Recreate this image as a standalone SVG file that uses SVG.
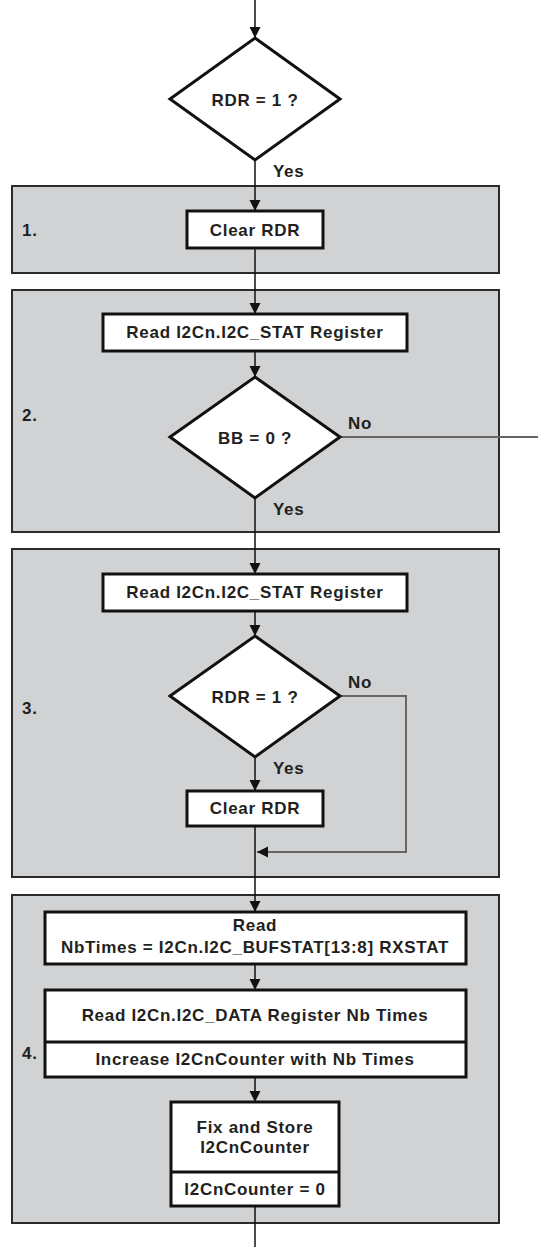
<svg xmlns="http://www.w3.org/2000/svg" width="538" height="1247" viewBox="0 0 538 1247">
<style>
  .grp { fill: #d1d2d4; stroke: #2b2b2b; stroke-width: 2; }
  .box { fill: #ffffff; stroke: #111111; stroke-width: 3; }
  .dia { fill: #ffffff; stroke: #111111; stroke-width: 3; stroke-linejoin: miter; }
  .div { stroke: #111111; stroke-width: 3; }
  .t { font-family: "Liberation Sans", Arial, sans-serif; font-weight: bold; font-size: 17px; letter-spacing: 0.7px; fill: #231f20; }
  .c { text-anchor: middle; }
  .ln { fill: none; stroke: #111111; stroke-width: 1.5; }
  .no { fill: none; stroke: #666666; stroke-width: 2; }
</style>
<defs>
  <marker id="ah" markerUnits="userSpaceOnUse" markerWidth="12" markerHeight="12" viewBox="0 0 12 12" refX="11" refY="6" orient="auto">
    <path d="M0,0.5 L11,6 L0,11.5 Z" fill="#111111"/>
  </marker>
</defs>

<g id="stage1-bg"><rect class="grp" x="12" y="186" width="487" height="87"/></g>
<g id="stage2-bg"><rect class="grp" x="12" y="290" width="487" height="242"/></g>
<g id="stage3-bg"><rect class="grp" x="12" y="549" width="487" height="328"/></g>
<g id="stage4-bg"><rect class="grp" x="12" y="895" width="487" height="328"/></g>

<g id="connectors">
  <line class="ln" x1="255" y1="0" x2="255" y2="38" marker-end="url(#ah)"/>
  <line class="ln" x1="255" y1="160" x2="255" y2="211" marker-end="url(#ah)"/>
  <line class="ln" x1="255" y1="248" x2="255" y2="314" marker-end="url(#ah)"/>
  <line class="ln" x1="255" y1="351" x2="255" y2="377" marker-end="url(#ah)"/>
  <line class="ln" x1="255" y1="498" x2="255" y2="574" marker-end="url(#ah)"/>
  <line class="ln" x1="255" y1="611" x2="255" y2="636" marker-end="url(#ah)"/>
  <line class="ln" x1="255" y1="757" x2="255" y2="791" marker-end="url(#ah)"/>
  <line class="ln" x1="255" y1="826" x2="255" y2="912" marker-end="url(#ah)"/>
  <line class="ln" x1="255" y1="964" x2="255" y2="990" marker-end="url(#ah)"/>
  <line class="ln" x1="255" y1="1077" x2="255" y2="1102" marker-end="url(#ah)"/>
  <line class="ln" x1="255" y1="1206" x2="255" y2="1247"/>
  <line class="no" x1="340" y1="437" x2="538" y2="437"/>
  <polyline class="no" points="340,696 406,696 406,852 257,852" marker-end="url(#ah)"/>
  <text class="t" x="273" y="177">Yes</text>
  <text class="t" x="273" y="515">Yes</text>
  <text class="t" x="273" y="774">Yes</text>
  <text class="t" x="348" y="429">No</text>
  <text class="t" x="348" y="688">No</text>
</g>

<g id="decision1">
  <polygon class="dia" points="255,38 340,99 255,160 170,99"/>
  <text class="t c" x="255" y="106">RDR = 1 ?</text>
</g>

<g id="stage1">
  <text class="t" x="22" y="236">1.</text>
  <g id="clear-rdr-1">
    <rect class="box" x="187" y="211" width="136" height="37"/>
    <text class="t c" x="255" y="236">Clear RDR</text>
  </g>
</g>

<g id="stage2">
  <text class="t" x="22" y="421">2.</text>
  <g id="read-stat-2">
    <rect class="box" x="103" y="314" width="304" height="37"/>
    <text class="t c" x="255" y="338">Read I2Cn.I2C_STAT Register</text>
  </g>
  <g id="decision-bb">
    <polygon class="dia" points="255,377 340,437 255,498 170,437"/>
    <text class="t c" x="255" y="444">BB = 0 ?</text>
  </g>
</g>

<g id="stage3">
  <text class="t" x="22" y="714">3.</text>
  <g id="read-stat-3">
    <rect class="box" x="103" y="574" width="304" height="37"/>
    <text class="t c" x="255" y="598">Read I2Cn.I2C_STAT Register</text>
  </g>
  <g id="decision-rdr-3">
    <polygon class="dia" points="255,636 340,696 255,757 170,696"/>
    <text class="t c" x="255" y="703">RDR = 1 ?</text>
  </g>
  <g id="clear-rdr-3">
    <rect class="box" x="187" y="791" width="136" height="35"/>
    <text class="t c" x="255" y="814">Clear RDR</text>
  </g>
</g>

<g id="stage4">
  <text class="t" x="22" y="1059">4.</text>
  <g id="read-bufstat">
    <rect class="box" x="45" y="912" width="421" height="52"/>
    <text class="t c" x="255" y="931">Read</text>
    <text class="t c" x="255" y="953">NbTimes = I2Cn.I2C_BUFSTAT[13:8] RXSTAT</text>
  </g>
  <g id="read-data">
    <rect class="box" x="45" y="990" width="421" height="87"/>
    <line class="div" x1="45" y1="1042" x2="466" y2="1042"/>
    <text class="t c" x="255" y="1021">Read I2Cn.I2C_DATA Register Nb Times</text>
    <text class="t c" x="255" y="1065">Increase I2CnCounter with Nb Times</text>
  </g>
  <g id="fix-store">
    <rect class="box" x="171" y="1102" width="168" height="104"/>
    <line class="div" x1="171" y1="1172" x2="339" y2="1172"/>
    <text class="t c" x="255" y="1133">Fix and Store</text>
    <text class="t c" x="255" y="1153">I2CnCounter</text>
    <text class="t c" x="255" y="1195">I2CnCounter = 0</text>
  </g>
</g>
</svg>
